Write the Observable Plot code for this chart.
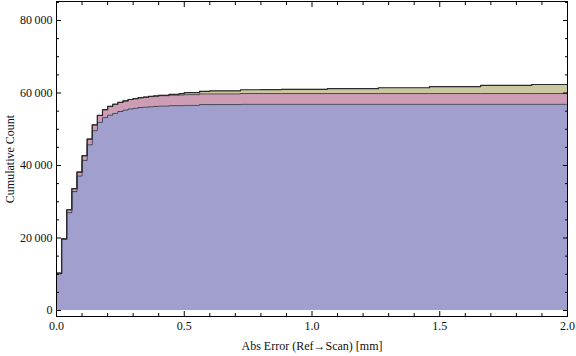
<!DOCTYPE html>
<html>
<head>
<meta charset="utf-8">
<script src="https://cdn.jsdelivr.net/npm/d3@7"></script>
<script src="https://cdn.jsdelivr.net/npm/@observablehq/plot@0.6"></script>
<style>
  html, body { margin: 0; padding: 0; background: #fff; }
  #chart { width: 576px; height: 356px; }
</style>
</head>
<body>
<div id="chart"></div>
<script>
// Bin left edges (mm) where the cumulative step values change
const xs = [0, 0.02, 0.04, 0.06, 0.08, 0.10, 0.12, 0.14, 0.16, 0.18,
            0.20, 0.22, 0.24, 0.26, 0.28, 0.30, 0.32, 0.34, 0.36, 0.38,
            0.40, 0.44, 0.48, 0.50, 0.56, 0.60, 0.72, 0.80, 0.88, 1.06,
            1.26, 1.46, 1.66, 1.86, 2.0];

// Cumulative counts per series (stacked bottom to top)
const seriesNames = ["A", "B", "C"];
const seriesA = [10100, 19600, 27000, 32800, 37100, 41400, 45700, 49600, 51900, 53200,
                 53900, 54400, 54900, 55300, 55600, 55800, 56000, 56100, 56200, 56300,
                 56400, 56500, 56500, 56600, 56800, 56800, 56900, 56900, 56900, 56900,
                 56900, 56900, 56900, 56900, 56900];
const seriesB = [200, 200, 800, 800, 1100, 1300, 1600, 1600, 1900, 2200,
                 2400, 2500, 2500, 2500, 2600, 2650, 2700, 2750, 2800, 2800,
                 2850, 2900, 2950, 2950, 2950, 2950, 2950, 2950, 2950, 2950,
                 2950, 2950, 2950, 2950, 2950];
const seriesC = [0, 0, 0, 0, 0, 0, 0, 0, 0, 0,
                 0, 0, 0, 0, 0, 0, 0, 0, 50, 80,
                 100, 200, 400, 550, 700, 850, 1050, 1100, 1150, 1350,
                 1600, 1900, 2250, 2500, 2500];
const fills = ["#a09fce", "#cc9db5", "#cbc7a0"];

// Ticks
const xTicks = [0, 0.5, 1.0, 1.5, 2.0];
const xTickLabels = ["0.0", "0.5", "1.0", "1.5", "2.0"];
const xMinorTicks = [0.1, 0.2, 0.3, 0.4, 0.6, 0.7, 0.8, 0.9, 1.1, 1.2, 1.3, 1.4, 1.6, 1.7, 1.8, 1.9];
const yTicks = [0, 20000, 40000, 60000, 80000];
const yTickLabels = ["0", "20\u2009000", "40\u2009000", "60\u2009000", "80\u2009000"];
const yMinorTicks = [5000, 10000, 15000, 25000, 30000, 35000, 45000, 50000, 55000, 65000, 70000, 75000, 85000];
const xLabel = "Abs Error (Ref\u2192Scan) [mm]";
const yLabel = "Cumulative Count";

const all = [seriesA, seriesB, seriesC];
const data = [];
seriesNames.forEach((s, si) => xs.forEach((x, i) => data.push({x, y: all[si][i], s})));

const font = "'Liberation Serif', 'Times New Roman', serif";
const tickCommon = {tickFormat: () => "", label: null, stroke: "#000"};

const chart = Plot.plot({
  width: 576,
  height: 356,
  marginLeft: 56,
  marginRight: 9,
  marginTop: 1,
  marginBottom: 40,
  style: {fontFamily: font, fontSize: "12px", color: "#111", background: "#fff"},
  x: {domain: [0, 2]},
  y: {domain: [-1655, 85241]},
  color: {domain: seriesNames, range: fills},
  marks: [
    Plot.areaY(data, {x: "x", y: "y", fill: "s", curve: "step-after"}),
    Plot.lineY(data, Plot.stackY2({
      x: "x", y: "y", z: "s", curve: "step-after",
      stroke: "#2a2a2a",
      strokeOpacity: d => d.s === "C" ? 1 : 0.75,
      strokeWidth: d => d.s === "C" ? 1.2 : 1
    })),
    Plot.frame({stroke: "#000", strokeWidth: 1}),
    // major ticks, all four sides, pointing inward
    Plot.axisX(xTicks, {anchor: "bottom", tickSize: -5, ...tickCommon}),
    Plot.axisX(xTicks, {anchor: "top", tickSize: -5, ...tickCommon}),
    Plot.axisY(yTicks, {anchor: "left", tickSize: -5, ...tickCommon}),
    Plot.axisY(yTicks, {anchor: "right", tickSize: -5, ...tickCommon}),
    // minor ticks
    Plot.axisX(xMinorTicks, {anchor: "bottom", tickSize: -3, ...tickCommon}),
    Plot.axisX(xMinorTicks, {anchor: "top", tickSize: -3, ...tickCommon}),
    Plot.axisY(yMinorTicks, {anchor: "left", tickSize: -3, ...tickCommon}),
    Plot.axisY(yMinorTicks, {anchor: "right", tickSize: -3, ...tickCommon}),
    // tick labels
    Plot.axisX(xTicks, {anchor: "bottom", tickSize: 0, tickPadding: 5, label: null,
      tickFormat: (d, i) => xTickLabels[xTicks.indexOf(d)], fontSize: 12}),
    Plot.axisY(yTicks, {anchor: "left", tickSize: 0, tickPadding: 4, label: null,
      tickFormat: (d, i) => yTickLabels[yTicks.indexOf(d)], fontSize: 12}),
    // axis titles
    Plot.text([xLabel], {frameAnchor: "bottom", text: d => d, dy: 33, fontSize: 12, fill: "#111"}),
    Plot.text([yLabel], {frameAnchor: "left", textAnchor: "middle", text: d => d, dx: -46, rotate: -90, fontSize: 12, fill: "#111"})
  ]
});
document.getElementById("chart").appendChild(chart);
</script>
</body>
</html>
